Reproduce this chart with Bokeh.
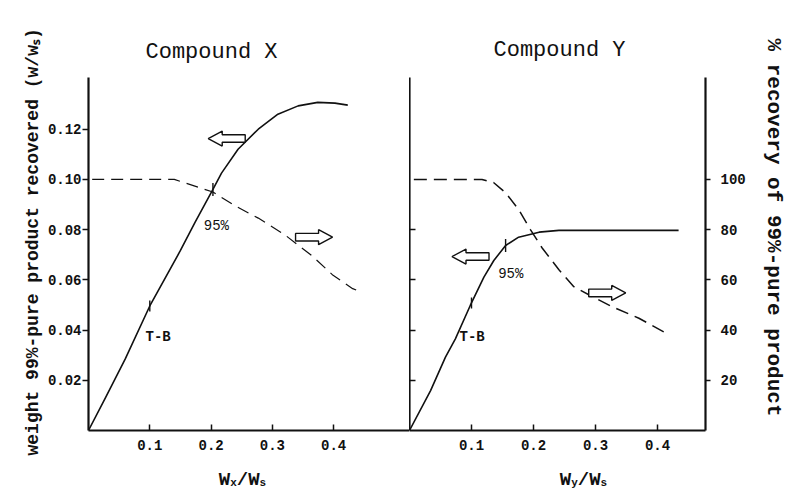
import numpy as np
from bokeh.plotting import figure
from bokeh.models import Range1d, LinearAxis, FixedTicker, PrintfTickFormatter, Title
from bokeh.layouts import row, column
from bokeh.embed import file_html
from bokeh.resources import INLINE
from bokeh.core.properties import value

# ---- data ----
# Compound X: weight of 99%-pure product recovered (w/w_s) vs W_x/W_s
x_weight_x = [0, 0.028, 0.060, 0.100, 0.150, 0.174, 0.203, 0.217, 0.244, 0.277,
              0.309, 0.342, 0.374, 0.402, 0.423]
weight_x = [0, 0.0132, 0.0285, 0.0496, 0.0717, 0.0830, 0.0960, 0.1025, 0.1120, 0.1200,
            0.1260, 0.1293, 0.1307, 0.1304, 0.1296]
# Compound X: % recovery of 99%-pure product
x_recovery_x = [0.006, 0.140, 0.158, 0.180, 0.203, 0.239, 0.277, 0.320, 0.365, 0.399, 0.431, 0.447]
recovery_x = [100, 100, 98.6, 96.8, 95.0, 89.5, 84.6, 78.0, 69.5, 61.8, 56.5, 55.0]

# Compound Y: weight recovered vs W_y/W_s
x_weight_y = [0, 0.034, 0.058, 0.074, 0.098, 0.120, 0.136, 0.155, 0.176, 0.209, 0.241, 0.434]
weight_y = [0, 0.0159, 0.0292, 0.0365, 0.0498, 0.0611, 0.0677, 0.0737, 0.0770, 0.0790, 0.0797, 0.0797]
# Compound Y: % recovery
x_recovery_y = [0.007, 0.117, 0.136, 0.155, 0.176, 0.195, 0.214, 0.241, 0.265, 0.295, 0.327, 0.370, 0.410]
recovery_y = [100, 100, 98.7, 94.7, 88.0, 80.0, 72.7, 64.0, 57.3, 53.3, 49.3, 44.7, 39.3]

# marked points on the weight curves: (x, label)
marks_x = [(0.100, "T-B"), (0.203, "95%")]
marks_y = [(0.100, "T-B"), (0.155, "95%")]

x_ticks = [0.1, 0.2, 0.3, 0.4]
weight_ticks = [0.02, 0.04, 0.06, 0.08, 0.10, 0.12]
pct_ticks = [20, 40, 60, 80, 100]

titles = ["Compound X", "Compound Y"]
ylabel_left = "weight 99%-pure product recovered (w/w\u209b)"
ylabel_right = "% recovery of 99%-pure product"

# ---- styling ----
FONT = "Liberation Mono"
FONT_VAL = value(FONT)
INK = "#111111"
H_TOTAL = 489
H_MAIN = 456          # plot area height; the x-axis caption strip sits below it
H_CAPTION = H_TOTAL - H_MAIN
TOP, BOTTOM = 77, 26
FRAME_H = H_MAIN - TOP - BOTTOM
W_MAX = 0.1406
PCT_MAX = 140.6


def bare(f):
    f.outline_line_color = None
    f.xgrid.visible = False
    f.ygrid.visible = False
    f.background_fill_color = "white"
    f.border_fill_color = "white"
    return f


def style_axis(ax, tick_in, tick_out, standoff, show_labels=True):
    ax.major_tick_in = tick_in
    ax.major_tick_out = tick_out
    ax.minor_tick_line_color = None
    ax.axis_line_width = 2.2
    ax.axis_line_color = INK
    ax.major_tick_line_color = INK
    ax.major_tick_line_width = 1.5
    ax.major_label_text_font = FONT
    ax.major_label_text_font_style = "bold"
    ax.major_label_standoff = standoff
    if show_labels:
        ax.major_label_text_font_size = "14px"
        ax.major_label_text_color = INK
    else:
        ax.major_label_text_font_size = "1px"
        ax.major_label_text_color = None


def make_panel(width, xmax, border_left, border_right):
    p = figure(width=width, height=H_MAIN, x_range=Range1d(0, xmax), y_range=Range1d(0, W_MAX),
               output_backend="svg", toolbar_location=None,
               x_axis_location=None, y_axis_location=None,
               min_border_left=border_left, min_border_right=border_right,
               min_border_top=TOP, min_border_bottom=BOTTOM)
    p.extra_y_ranges = {"pct": Range1d(0, PCT_MAX)}
    bare(p)
    xa = LinearAxis(ticker=FixedTicker(ticks=x_ticks), formatter=PrintfTickFormatter(format="%.1f"))
    style_axis(xa, 6, 0, 9)
    p.add_layout(xa, "below")
    return p


def arrow(p, cx, cy, direction, frame_w):
    # hollow block arrow centred at (cx, cy) in data units, sized in pixels
    sx = frame_w / (p.x_range.end - p.x_range.start)
    sy = FRAME_H / (p.y_range.end - p.y_range.start)
    L, head, hh, sh = 37, 14, 7.5, 3.8
    pts = [(0, -sh), (L - head, -sh), (L - head, -hh), (L, 0), (L - head, hh), (L - head, sh), (0, sh)]
    xs = [cx + direction * (px - L / 2) / sx for px, _ in pts]
    ys = [cy + py / sy for _, py in pts]
    p.patch(xs, ys, fill_color="white", line_color=INK, line_width=1.4)


def curve_marks(p, xs, ys, marks, label_pos):
    for (mx, txt), (lx, ly, style) in zip(marks, label_pos):
        my = float(np.interp(mx, xs, ys))
        p.scatter([mx], [my], marker="dash", angle=np.pi / 2, size=13 if txt == "95%" else 11,
                  line_color=INK, line_width=1.4)
        p.text([lx], [ly], text=[txt], text_font=FONT_VAL, text_font_size="14px",
               text_font_style=style, text_color=INK, text_baseline="middle", text_align="left")


def side_title(text, size, style, offset, standoff):
    return Title(text=text, align="left", offset=offset, standoff=standoff,
                 text_font=FONT, text_font_size=f"{size}px", text_font_style=style,
                 text_color=INK)


def caption(width, xmax, frame_w, border_left, border_right, sub, center):
    # strip under a panel holding the x-axis caption "W<sub>/W_s"; shares the panel's x scale
    q = figure(width=width, height=H_CAPTION, x_range=Range1d(0, xmax), y_range=Range1d(0, H_CAPTION),
               output_backend="svg", toolbar_location=None,
               x_axis_location=None, y_axis_location=None,
               min_border_left=border_left, min_border_right=border_right,
               min_border_top=0, min_border_bottom=0)
    bare(q)
    per_px = xmax / frame_w
    big, small = 19, 11
    pieces = [("W", big, 10), (sub, small, 7), ("/W", big, 10), ("s", small, 7)]
    total = sum(len(t) * 0.6 * s for t, s, _ in pieces)
    x = center - total / 2 * per_px
    for txt, size, base in pieces:
        q.text([x], [base], text=[txt], text_font=FONT_VAL, text_font_size=f"{size}px",
               text_font_style="bold", text_color=INK, text_align="left", text_baseline="alphabetic")
        x += len(txt) * 0.6 * size * per_px
    return q


# ---- Compound X panel ----
FW1, LB1 = 321, 88
XMAX1 = 0.5237
p1 = make_panel(LB1 + FW1, XMAX1, LB1, 0)
ya = LinearAxis(ticker=FixedTicker(ticks=weight_ticks), formatter=PrintfTickFormatter(format="%.2f"))
style_axis(ya, 0, 6, 1)
p1.add_layout(ya, "left")

p1.line(x_weight_x, weight_x, line_color=INK, line_width=1.6)
p1.line(x_recovery_x, recovery_x, y_range_name="pct", line_color=INK, line_width=1.2, line_dash="12 7")
curve_marks(p1, x_weight_x, weight_x, marks_x,
            [(0.093, 0.0374, "bold"), (0.188, 0.0814, "normal")])
arrow(p1, 0.2255, 0.1163, -1, FW1)
arrow(p1, 0.368, 0.0770, 1, FW1)

p1.add_layout(side_title(titles[0], 22, "normal", 57, 26), "above")
p1.add_layout(side_title(ylabel_left, 18, "bold", -25, 4), "left")
q1 = caption(LB1 + FW1, XMAX1, FW1, LB1, 0, "x", 0.2512)

# ---- Compound Y panel ----
FW2, RB2 = 296, 46
XMAX2 = 0.4774
p2 = make_panel(FW2 + RB2, XMAX2, 0, RB2)
ya2 = LinearAxis(ticker=FixedTicker(ticks=[0.02, 0.04, 0.06, 0.08]))
style_axis(ya2, 6, 0, 0, show_labels=False)
p2.add_layout(ya2, "left")

yr = LinearAxis(y_range_name="pct", ticker=FixedTicker(ticks=pct_ticks),
                formatter=PrintfTickFormatter(format="%d"))
style_axis(yr, 0, 5, 10)
p2.add_layout(yr, "right")

p2.line(x_weight_y, weight_y, line_color=INK, line_width=1.6)
p2.line(x_recovery_y, recovery_y, y_range_name="pct", line_color=INK, line_width=1.5, line_dash="13 7")
curve_marks(p2, x_weight_y, weight_y, marks_y,
            [(0.0806, 0.0374, "bold"), (0.143, 0.0624, "normal")])
arrow(p2, 0.0984, 0.0693, -1, FW2)
arrow(p2, 0.3189, 0.0548, 1, FW2)

p2.add_layout(side_title(titles[1], 22, "normal", 84, 30), "above")
q2 = caption(FW2 + RB2, XMAX2, FW2, 0, RB2, "y", 0.2806)

# ---- right-hand axis title strip ----
W_STRIP = 787 - (LB1 + FW1) - (FW2 + RB2)
r = bare(figure(width=W_STRIP, height=H_TOTAL, x_range=Range1d(0, W_STRIP), y_range=Range1d(0, H_TOTAL),
                output_backend="svg", toolbar_location=None,
                x_axis_location=None, y_axis_location=None,
                min_border_left=0, min_border_right=0, min_border_top=0, min_border_bottom=0))
r.text([W_STRIP - 14], [H_TOTAL - 227], text=[ylabel_right], angle=-np.pi / 2,
       text_font=FONT_VAL, text_font_size="21px", text_font_style="bold", text_color=INK,
       text_align="center", text_baseline="middle")

layout = row(column(p1, q1, spacing=0), column(p2, q2, spacing=0), r, spacing=0)
open("out.html", "w").write(file_html(layout, INLINE))
